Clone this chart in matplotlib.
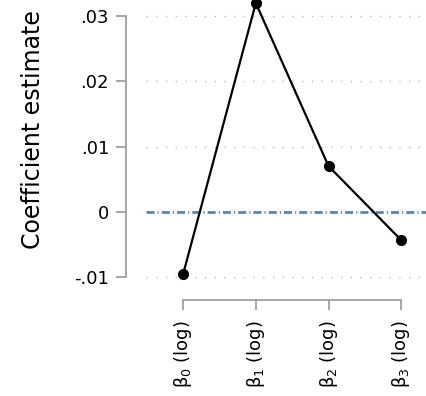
import numpy as np
import matplotlib.pyplot as plt

# coefficient estimates per term
terms = [r'$\mathregular{\beta_0}$ (log)', r'$\mathregular{\beta_1}$ (log)',
         r'$\mathregular{\beta_2}$ (log)', r'$\mathregular{\beta_3}$ (log)']
estimates = [-0.0095, 0.0319, 0.0070, -0.0043]
yticks = [-0.01, 0.0, 0.01, 0.02, 0.03]
ytick_labels = ['-.01', '0', '.01', '.02', '.03']

plt.rcParams['font.family'] = ['DejaVu Sans']
plt.rcParams['mathtext.fontset'] = 'dejavusans'

fig = plt.figure(figsize=(4.26, 3.96), dpi=100)
ax = fig.add_axes([146 / 426, 1 - 290 / 396, 1 - 146 / 426, 290 / 396])

x = np.arange(len(terms))
ax.set_xlim(-0.51, 3.34)
ax.set_ylim(-0.01191, 0.03237)

# dotted grid at each y tick
for v in yticks:
    if v != 0:
        ax.axhline(v, color='#bbbbbb', lw=1.0, ls=(0, (1, 6)), zorder=1)
# reference line at zero, long dash with a small dot between
ax.axhline(0, color='#5b84ae', lw=2.0, ls=(0, (2.9, 1.1, 0.4, 1.1)), zorder=2)

ax.plot(x, estimates, color='black', lw=1.6, marker='o', ms=7,
        clip_on=False, zorder=3)

grey = '#a6a6a6'
px = 0.72  # points per pixel at 100 dpi
for side in ['top', 'right']:
    ax.spines[side].set_visible(False)
ax.spines['left'].set_position(('outward', 20 * px))
ax.spines['left'].set_bounds(-0.01, 0.03)
ax.spines['bottom'].set_position(('outward', 10 * px))
ax.spines['bottom'].set_bounds(0, 3)
for side in ['left', 'bottom']:
    ax.spines[side].set_color(grey)
    ax.spines[side].set_linewidth(1.4)

ax.set_yticks(yticks)
ax.set_yticklabels(ytick_labels)
ax.set_xticks(x)
ax.set_xticklabels(terms)
ax.tick_params(axis='y', length=10 * px, width=1.4, color=grey,
               labelsize=13, pad=5)
ax.tick_params(axis='x', length=10 * px, width=1.4, color=grey,
               labelsize=13, pad=7, labelrotation=90)

ax.set_ylabel('Coefficient estimate', fontsize=17)
ax.yaxis.set_label_coords(-101 / 280, 1 - 130 / 290)
ax.patch.set_visible(False)

fig.savefig('out.png', dpi=100)
